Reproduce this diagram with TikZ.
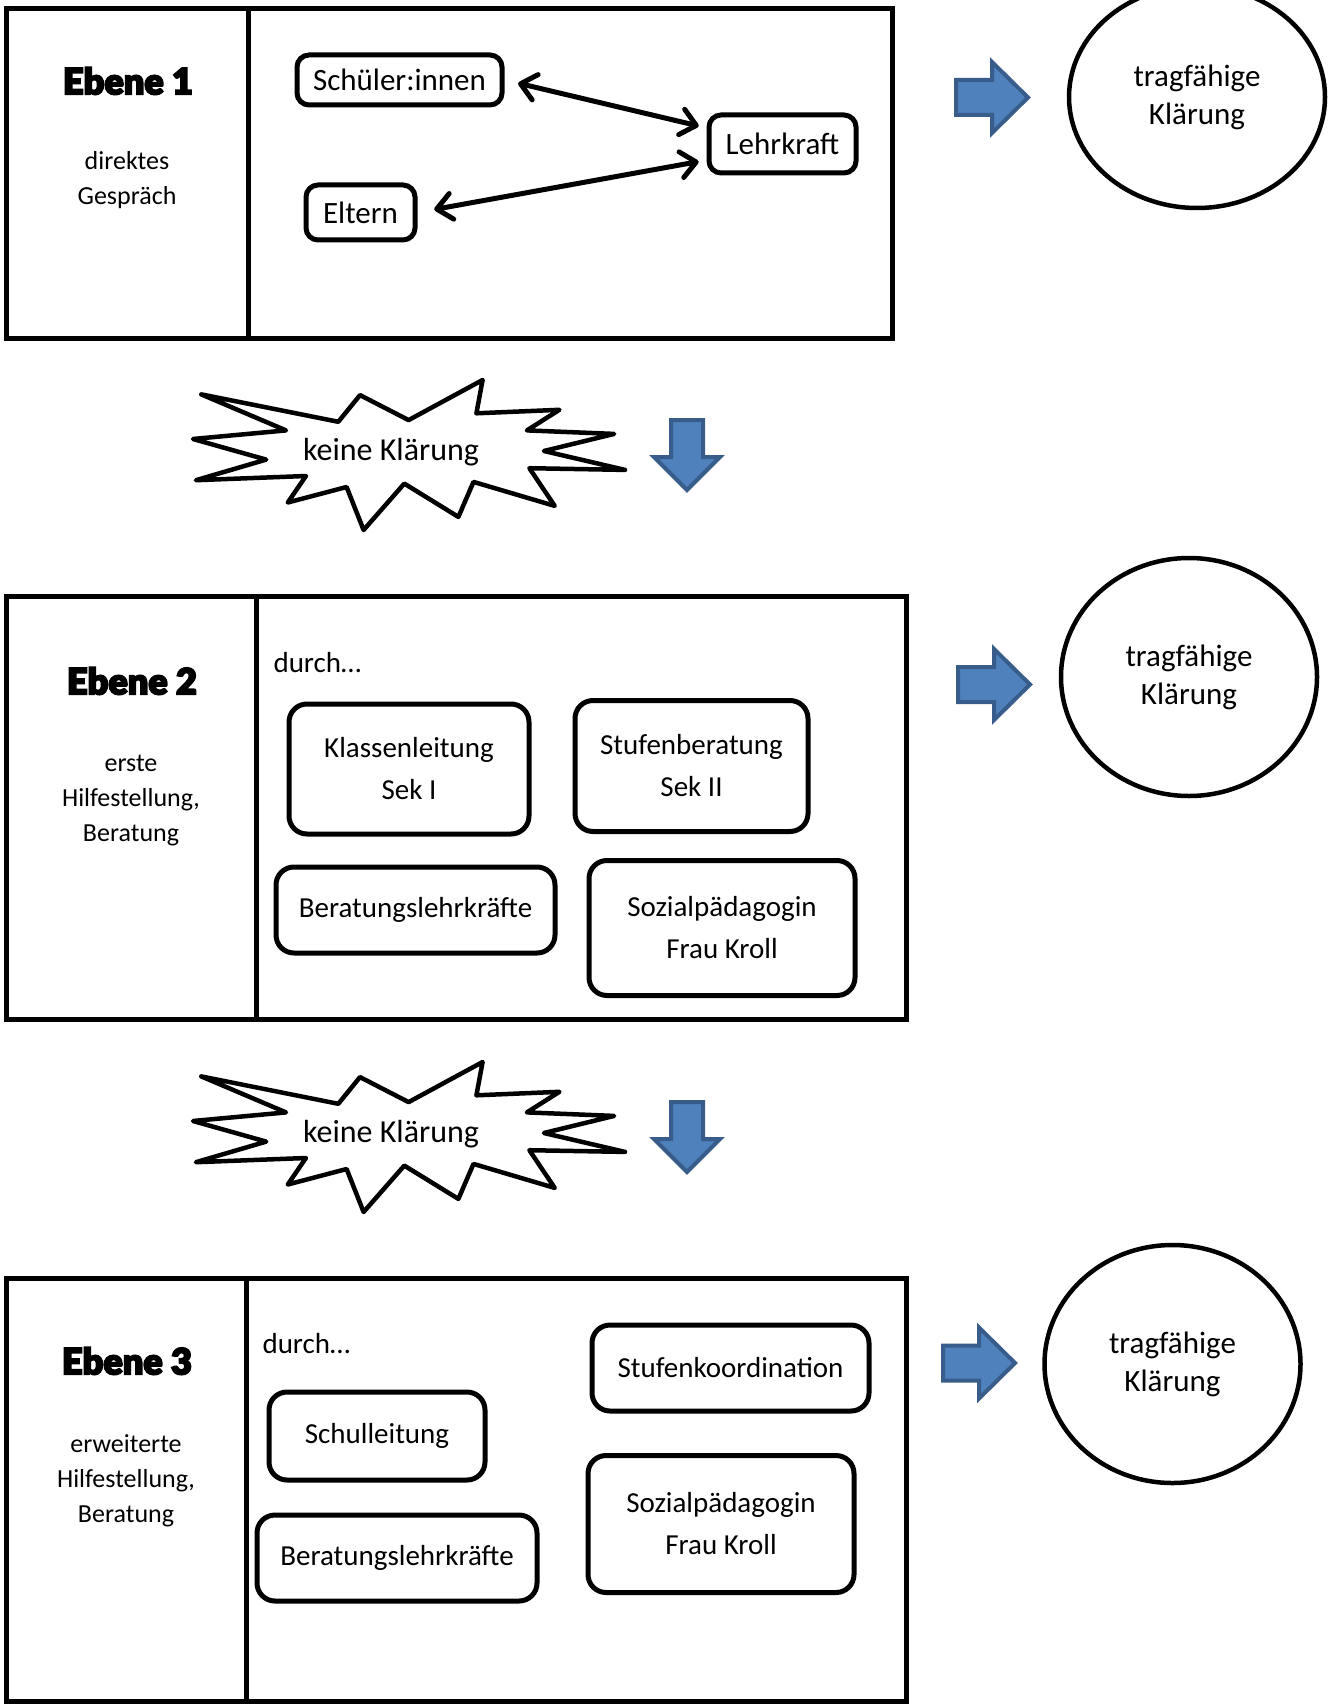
\documentclass[tikz,border=0pt]{standalone}
\usepackage{fontspec}
\setmainfont{Carlito}
\newfontfamily\dickfont{Lato Black}[BoldFont={Lato Black}, BoldFeatures={FakeBold=5}]
\usetikzlibrary{arrows.meta,shapes.geometric}

\definecolor{pfeilblau}{HTML}{4F81BD}
\definecolor{pfeilrand}{HTML}{385D8A}

\begin{document}
\begin{tikzpicture}
[
x=1pt, y=-1pt
, >={Straight Barb[length=15pt,width=26pt,round]}
, ebene/.style={line width=5pt}
, stelle/.style={draw, line width=5pt, rounded corners=18pt, align=center, inner sep=0pt, font=\fontsize{29}{42}\selectfont}
, ziel/.style={draw, ellipse, line width=4.5pt, minimum width=256pt, minimum height=238pt, align=center, font=\fontsize{31}{38}\selectfont}
, titel/.style={font=\dickfont\bfseries\fontsize{36}{40}\selectfont}
, info/.style={align=center, font=\fontsize{26}{35}\selectfont}
, blockpfeil/.style={fill=pfeilblau, draw=pfeilrand, line width=4pt}
]

\useasboundingbox (0,0) rectangle (1333,1704);

% Ebene 1
\draw[ebene] (6.5,8.7) rectangle (892,338) (248,8.7) -- (248,338);
\node[titel] (titel1) at (128,81) {Ebene 1};
\node[info] (info1) at (127,180.5) {direktes\\Gespräch};
\node[stelle, font=\fontsize{31}{42}\selectfont, rounded corners=12pt, minimum width=205pt, minimum height=50pt] (schueler) at (399.5,80) {Schüler:innen};
\node[stelle, font=\fontsize{31}{42}\selectfont, rounded corners=12pt, minimum width=147pt, minimum height=58pt] (lehrkraft) at (782.5,144) {Lehrkraft};
\node[stelle, font=\fontsize{31}{42}\selectfont, rounded corners=12pt, minimum width=109pt, minimum height=55pt] (eltern) at (360.5,212.5) {Eltern};
\draw[<->, line width=5pt, shorten <=14pt, shorten >=8pt] (schueler.east) -- (lehrkraft.168);
\draw[<->, line width=5pt, shorten <=17pt, shorten >=8pt] (eltern.east) -- (lehrkraft.192);

% Ebene 2
\draw[ebene] (6.5,596) rectangle (906,1019) (256,596) -- (256,1019);
\node[titel] (titel2) at (132,681) {Ebene 2};
\node[info] (info2) at (131,801) {erste\\Hilfestellung,\\Beratung};
\node[anchor=west, font=\fontsize{29}{35}\selectfont] (durch2) at (270,663) {durch\dots};
\node[stelle, minimum width=240pt, minimum height=130pt] (klasse) at (409,769) {Klassenleitung\\Sek I};
\node[stelle, minimum width=233pt, minimum height=131pt] (stufe) at (691.5,766) {Stufenberatung\\Sek II};
\node[stelle, minimum width=279pt, minimum height=86pt] (berat2) at (415.5,910) {Beratungslehrkräfte};
\node[stelle, minimum width=266pt, minimum height=135pt] (sozial2) at (722,928) {Sozialpädagogin\\Frau Kroll};

% Ebene 3
\draw[ebene] (6.5,1278) rectangle (906,1701) (246,1278) -- (246,1701);
\node[titel] (titel3) at (127,1361) {Ebene 3};
\node[info] (info3) at (126,1481) {erweiterte\\Hilfestellung,\\Beratung};
\node[anchor=west, font=\fontsize{29}{35}\selectfont] (durch3) at (259,1344) {durch\dots};
\node[stelle, minimum width=277pt, minimum height=86pt] (koord) at (730.5,1368) {Stufenkoordination};
\node[stelle, minimum width=216pt, minimum height=88pt] (schulltg) at (377,1436) {Schulleitung};
\node[stelle, minimum width=280pt, minimum height=86pt] (berat3) at (397,1558) {Beratungslehrkräfte};
\node[stelle, minimum width=266pt, minimum height=137pt] (sozial3) at (721,1524) {Sozialpädagogin\\Frau Kroll};

% tragfaehige Klaerung
\node[ziel, minimum height=222pt] (ziel1) at (1197,97) {tragfähige\\Klärung};
\node[ziel] (ziel2) at (1189,677) {tragfähige\\Klärung};
\node[ziel] (ziel3) at (1172.5,1364) {tragfähige\\Klärung};
\foreach \x/\y in {956/97.5, 958/684.5, 943/1363}
  \draw[blockpfeil] (\x,\y-17.5) -- ++(36,0) -- ++(0,-18) -- ++(36,35.5) -- ++(-36,35.5) -- ++(0,-18) -- ++(-36,0) -- cycle;

% keine Klaerung
\foreach \dy/\n in {0/1, 682/2}{
\begin{scope}[shift={(0,\dy)}]
\draw[line width=4.5pt, line join=round] (201.3,394.4) -- (338.3,421.8) -- (360.0,395.1) -- (408.6,420.1) -- (482.6,380) -- (476.4,413.3) -- (559.4,409.8) -- (526.9,430.4) -- (614.2,433.9) -- (543.9,451.0) -- (625,469.9) -- (529.4,468.2) -- (554.7,505.9) -- (473.5,481.9) -- (458.4,516.9) -- (404.3,483.6) -- (363.6,530) -- (346.6,487.0) -- (287.8,502.5) -- (305.9,476.0) -- (195.9,480.2) -- (266.2,459.6) -- (193,439) -- (286,430.4) -- cycle;
\node[font=\fontsize{32}{38}\selectfont] (keine\n) at (391,452) {keine Klärung};
\draw[blockpfeil] (671,420) -- (703,420) -- (703,457) -- (720,457) -- (687,490) -- (654,457) -- (671,457) -- cycle;
\end{scope}
}

\end{tikzpicture}
\end{document}
